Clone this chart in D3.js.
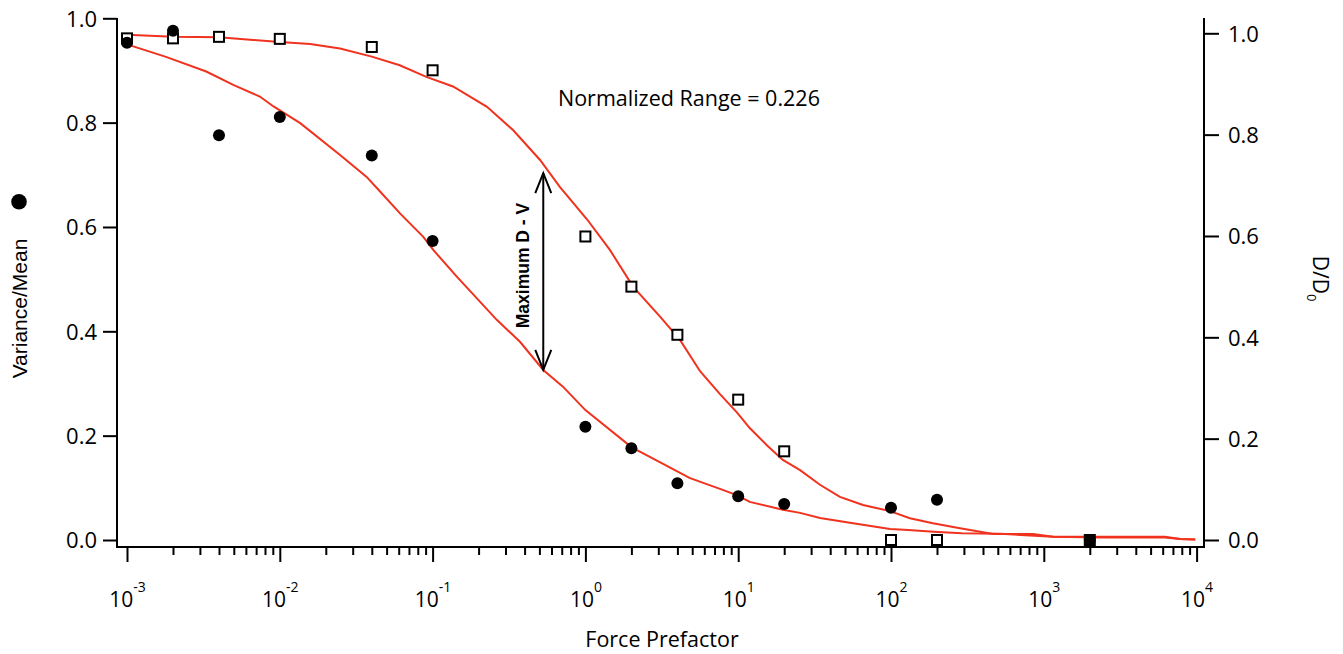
<!DOCTYPE html>
<html>
<head>
<meta charset="utf-8">
<script src="https://cdn.jsdelivr.net/npm/d3@7"></script>
<style>
  html, body { margin: 0; padding: 0; background: #fff; }
  svg { display: block; }
</style>
</head>
<body>
<svg id="chart" width="1343" height="654"></svg>
<script>
// Measured points: force prefactor vs. variance/mean (left axis) and D/D0 (right axis)
const forcePrefactor = [0.001, 0.002, 0.004, 0.01, 0.04, 0.1, 1, 2, 4, 10, 20, 100, 200, 2000];
const varianceMean   = [0.953, 0.976, 0.776, 0.811, 0.737, 0.573, 0.217, 0.176, 0.109, 0.084, 0.069, 0.062, 0.077, 0.0];
const diffusionRatio = [0.990, 0.990, 0.993, 0.989, 0.973, 0.927, 0.599, 0.500, 0.405, 0.277, 0.175, 0.0, 0.0, 0.0];

// Model curve for variance/mean
const fitVX = [0.001, 0.0018, 0.0033, 0.005, 0.0074, 0.0091, 0.0136, 0.0248, 0.037, 0.0453, 0.0612, 0.0869, 0.101, 0.144, 0.204,
               0.263, 0.373, 0.53, 0.713, 1.0, 2.0, 4.8, 5.6, 7.6, 9.8, 11.9, 19.6, 25.4, 34.3, 53.8, 98.5, 130, 190, 290, 520,
               1150, 2330, 6200, 7800, 9800];
const fitVY = [0.950, 0.926, 0.898, 0.872, 0.850, 0.831, 0.799, 0.738, 0.696, 0.668, 0.626, 0.581, 0.556, 0.505, 0.457,
               0.422, 0.380, 0.326, 0.294, 0.249, 0.178, 0.119, 0.112, 0.098, 0.086, 0.073, 0.058, 0.052, 0.042, 0.033, 0.021, 0.019, 0.016, 0.013, 0.012,
               0.006, 0.005, 0.005, 0.002, 0.001];

// Model curve for D/D0
const fitDX = [0.001, 0.002, 0.004, 0.0067, 0.01, 0.0158, 0.0248, 0.040, 0.061, 0.091, 0.136, 0.227, 0.336, 0.505, 0.68,
               1.03, 1.45, 2.05, 3.08, 4.16, 5.63, 7.6, 9.8, 11.9, 15.4, 19.6, 25.4, 34.3, 46.3, 65.6, 98.5, 133, 188, 283, 466, 850, 1150, 2330, 6200, 7800, 9800];
const fitDY = [0.997, 0.993, 0.992, 0.987, 0.983, 0.979, 0.970, 0.954, 0.937, 0.914, 0.895, 0.855, 0.809, 0.750, 0.697,
               0.632, 0.572, 0.500, 0.441, 0.395, 0.333, 0.288, 0.252, 0.221, 0.187, 0.158, 0.138, 0.109, 0.085, 0.069, 0.057, 0.043, 0.033, 0.023, 0.012, 0.012, 0.0065, 0.0065, 0.0065, 0.002, 0.001];

const leftTicks  = [0, 0.2, 0.4, 0.6, 0.8, 1.0];
const rightTicks = [0, 0.2, 0.4, 0.6, 0.8, 1.0];
const decadeExponents = [-3, -2, -1, 0, 1, 2, 3, 4];

// Annotation: gap between the two curves
const gapX = 0.53, gapTopD = 0.724, gapBottomV = 0.326;
const annotationText = "Normalized Range = 0.226";

const svg = d3.select("#chart");
const frame = { left: 117, right: 1204, top: 18, bottom: 547 };

const x = d3.scaleLog().domain([1e-3, 1e4]).range([127, 1196.6]);
const yLeft = d3.scaleLinear().domain([0, 1]).range([540, 18.3]);
const yRight = d3.scaleLinear().domain([0, 1]).range([540, 33.3]);

const tickFont = "'Open Sans', 'Noto Sans', sans-serif";
const red = "#f0321e";

// Frame lines
const axisG = svg.append("g").attr("stroke", "#000").attr("stroke-width", 2).attr("fill", "none");
axisG.append("line").attr("x1", frame.left).attr("x2", frame.left).attr("y1", frame.top).attr("y2", frame.bottom + 1);
axisG.append("line").attr("x1", frame.right).attr("x2", frame.right).attr("y1", frame.top).attr("y2", frame.bottom + 1);
axisG.append("line").attr("x1", frame.left - 1).attr("x2", frame.right + 1).attr("y1", frame.bottom).attr("y2", frame.bottom);

// Left axis
const gL = svg.append("g").attr("transform", `translate(${frame.left},0)`)
  .call(d3.axisLeft(yLeft).tickValues(leftTicks).tickSize(14).tickPadding(6).tickFormat(d3.format(".1f")));
gL.select(".domain").remove();
gL.selectAll(".tick line").attr("stroke", "#000").attr("stroke-width", 2);
gL.selectAll(".tick text").attr("font-family", tickFont).attr("font-size", 22).attr("fill", "#000").attr("dy", "0.36em");

// Right axis
const gR = svg.append("g").attr("transform", `translate(${frame.right},0)`)
  .call(d3.axisRight(yRight).tickValues(rightTicks).tickSize(15).tickPadding(9).tickFormat(d3.format(".1f")));
gR.select(".domain").remove();
gR.selectAll(".tick line").attr("stroke", "#000").attr("stroke-width", 2);
gR.selectAll(".tick text").attr("font-family", tickFont).attr("font-size", 22).attr("fill", "#000").attr("dy", "0.36em");

// Bottom axis: minor ticks
const minorTicks = [];
decadeExponents.slice(0, -1).forEach(e => { for (let m = 2; m <= 9; m++) minorTicks.push(m * Math.pow(10, e)); });
const gMinor = svg.append("g").attr("transform", `translate(0,${frame.bottom})`)
  .call(d3.axisBottom(x).tickValues(minorTicks).tickSize(8).tickFormat(""));
gMinor.select(".domain").remove();
gMinor.selectAll(".tick line").attr("stroke", "#000").attr("stroke-width", 2);

// Bottom axis: decade ticks with 10^n labels
const majorTicks = decadeExponents.map(e => Math.pow(10, e));
const gMajor = svg.append("g").attr("transform", `translate(0,${frame.bottom})`)
  .call(d3.axisBottom(x).tickValues(majorTicks).tickSize(15).tickFormat(""));
gMajor.select(".domain").remove();
gMajor.selectAll(".tick line").attr("stroke", "#000").attr("stroke-width", 2);
gMajor.selectAll(".tick text").remove();
gMajor.selectAll(".tick").each(function(d, i) {
  const t = d3.select(this).append("text")
    .attr("y", 60).attr("text-anchor", "middle")
    .attr("font-family", tickFont).attr("font-size", 21).attr("fill", "#000");
  t.append("tspan").text("10");
  t.append("tspan").attr("font-size", 14).attr("dy", -15).text(String(decadeExponents[i]));
});

// Axis titles
svg.append("text").attr("x", 662).attr("y", 647).attr("text-anchor", "middle")
  .attr("font-family", tickFont).attr("font-size", 21.5).attr("fill", "#000").text("Force Prefactor");

svg.append("text").attr("transform", "translate(27,308.5) rotate(-90)").attr("text-anchor", "middle")
  .attr("font-family", "'Liberation Sans', Arial, sans-serif").attr("font-size", 21).attr("fill", "#000")
  .text("Variance/Mean");
svg.append("circle").attr("cx", 19).attr("cy", 201.7).attr("r", 7.8).attr("fill", "#000");

const dLabel = svg.append("text").attr("transform", "translate(1313,278.5) rotate(90)").attr("text-anchor", "middle")
  .attr("font-family", tickFont).attr("font-size", 21).attr("fill", "#000");
dLabel.append("tspan").text("D/D");
dLabel.append("tspan").attr("font-size", 13).attr("dy", 6.5).text("0");

// Fitted curves
const lineV = d3.line().x((d, i) => x(fitVX[i])).y(d => yLeft(d));
const lineD = d3.line().x((d, i) => x(fitDX[i])).y(d => yRight(d));
svg.append("path").attr("d", lineD(fitDY)).attr("fill", "none").attr("stroke", red).attr("stroke-width", 2);
svg.append("path").attr("d", lineV(fitVY)).attr("fill", "none").attr("stroke", red).attr("stroke-width", 2);

// D/D0 markers (open squares)
const sq = 10;
svg.append("g").selectAll("rect").data(diffusionRatio).join("rect")
  .attr("x", (d, i) => x(forcePrefactor[i]) - sq / 2)
  .attr("y", d => yRight(d) - sq / 2)
  .attr("width", sq).attr("height", sq)
  .attr("fill", "#fff").attr("stroke", "#000").attr("stroke-width", 2);

// Variance/mean markers (filled circles)
svg.append("g").selectAll("circle").data(varianceMean).join("circle")
  .attr("cx", (d, i) => x(forcePrefactor[i]))
  .attr("cy", d => yLeft(d))
  .attr("r", 6).attr("fill", "#000");

// Double-headed arrow marking the maximum D - V gap
const ax = x(gapX), aTop = yRight(gapTopD), aBot = yLeft(gapBottomV);
const arrowG = svg.append("g").attr("stroke", "#000").attr("stroke-width", 2).attr("fill", "none");
arrowG.append("line").attr("x1", ax).attr("x2", ax).attr("y1", aTop).attr("y2", aBot);
arrowG.append("path").attr("d", `M${ax - 8},${aTop + 20} L${ax},${aTop} L${ax + 8},${aTop + 20}`);
arrowG.append("path").attr("d", `M${ax - 8},${aBot - 20} L${ax},${aBot} L${ax + 8},${aBot - 20}`);

svg.append("text").attr("transform", `translate(${ax - 14},${(aTop + aBot) / 2 - 6}) rotate(-90)`)
  .attr("text-anchor", "middle")
  .attr("font-family", "'Liberation Sans', Arial, sans-serif").attr("font-weight", "bold")
  .attr("font-size", 17.5).attr("fill", "#000").text("Maximum D - V");

svg.append("text").attr("x", 558).attr("y", 106)
  .attr("font-family", tickFont).attr("font-size", 21.5).attr("fill", "#000").text(annotationText);
</script>
</body>
</html>
